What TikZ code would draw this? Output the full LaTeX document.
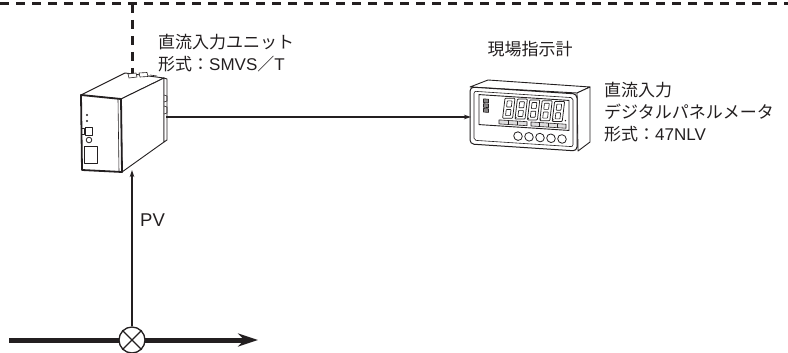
\documentclass[tikz,border=0pt]{standalone}
\usepackage{fontspec}
\setmainfont{Noto Sans CJK JP}
\newfontfamily\latn{Liberation Sans}
\usetikzlibrary{arrows.meta}
\definecolor{ink}{RGB}{35,31,32}
\begin{document}
\begin{tikzpicture}[x=1pt,y=-1pt,line join=round,
  lbl/.style={font=\fontsize{17}{22}\selectfont,inner sep=0pt,anchor=base west,text=ink},
  part/.style={draw=ink,line width=0.9pt,fill=white},
  fine/.style={draw=ink,line width=0.6pt},
  wire/.style={draw=ink,line width=1.3pt,-{Stealth[length=7pt,width=4.5pt]}},
  bus/.style={draw=ink,line width=3pt,dash pattern=on 9pt off 7pt},
  pipe/.style={draw=ink,line width=5pt,-{Stealth[length=20pt,width=13pt]}},
  valvebox/.style={circle,draw=ink,line width=1.3pt,fill=white,minimum size=26pt,inner sep=0pt},
  % outlined seven-segment "8." leaning to the right
  segdigit/.pic={
    \begin{scope}[xslant=0.12]
      \draw[fine,line width=0.75pt,rounded corners=0.8pt] (0,0) rectangle (10,20);
      \draw[fine,line width=0.65pt,rounded corners=0.5pt] (2.6,2.6) rectangle (7.4,8.7);
      \draw[fine,line width=0.65pt,rounded corners=0.5pt] (2.6,11.3) rectangle (7.4,17.4);
    \end{scope}
    \fill[ink] (10.8,19.2) circle (0.8);
  }]
\useasboundingbox (0,0) rectangle (788,353);

% ---- named points of the signal paths
\coordinate (busL) at (0,4);
\coordinate (busR) at (788,4);
\coordinate (busT) at (132,4);
\coordinate (unitTop) at (132,75);
\coordinate (unitOut) at (166,117);
\coordinate (meterIn) at (471,117);
\coordinate (unitIn) at (132,170);
\coordinate (pipeL) at (9,340);
\coordinate (pipeR) at (258,340);

% ---- communication bus (dashed)
\draw[bus] (busL) -- (busR);
\draw[bus] (busT) -- (unitTop);

% ---- DC input unit (SMVS/T)
\draw[part] (81,95) -- (121,99) -- (164,78) -- (125,73) -- cycle;
\draw[part] (121,99) -- (164,78) -- (164,142) -- (122,172) -- cycle;
\draw[part] (164,78) -- (167,79) -- (167,140) -- (164,142) -- cycle;
\draw[part,line width=1.8pt] (81,95) -- (121,99) -- (122,172) -- (82,170) -- cycle;
\draw[fine] (118,99) -- (119,172);
% top terminals
\draw[fine,fill=white] (128,74) -- (136,73) -- (137,77) -- (129,78) -- cycle;
\draw[fine,fill=white] (139,73) -- (147,72.5) -- (148,76.5) -- (140,77) -- cycle;
\draw[fine] (150,75) -- (157,76);
% DIN rail clips on the side
\draw[fine] (164,95) -- (167,96) -- (167,101) -- (164,102);
\draw[fine] (164,106) -- (167,107) -- (167,113) -- (164,114);
% front panel
\fill[ink] (87,115) circle (1.1) (87,121) circle (1.1);
\draw[fine,line width=0.8pt] (81,128) rectangle (84,134);
\draw[fine,line width=0.8pt] (85,127) rectangle (92,135);
\draw[fine,line width=0.8pt] (89,140) circle (2.8);
\draw[fine,line width=0.8pt] (84,146) rectangle (97,163);

% ---- panel meter (47NLV)
\draw[part] (470,87) -- (488,80) -- (590,87) -- (577,93) -- cycle;
\draw[part] (577,93) -- (590,87) -- (590,142) -- (578,151) -- cycle;
\begin{scope}[shift={(470,87)},yslant=-0.065]
  \draw[part,line width=1pt,rounded corners=4pt] (0,0) rectangle (107,57);
  \draw[fine,rounded corners=2pt] (4,4) rectangle (103,53);
  \draw[fine,line width=0.9pt] (9,7) rectangle (99,37);
  \foreach \k in {0,1,2}
    \draw[fine,fill=ink!55] (13.5,11+4.8*\k) rectangle (18.5,14.6+4.8*\k);
  \foreach \k in {0,...,4}
    \pic at (35+12.4*\k,9) {segdigit};
  \draw[fine,fill=ink!15] (29,31) rectangle (57,35);
  \draw[fine] (38.3,31) -- (38.3,35) (47.6,31) -- (47.6,35);
  \draw[fine,fill=ink!15] (61,31) rectangle (96,35);
  \draw[fine] (69.75,31) -- (69.75,35) (78.5,31) -- (78.5,35) (87.25,31) -- (87.25,35);
  \foreach \k in {0,...,4}
    \draw[fine,line width=0.8pt] (48+11*\k,46) circle (4.3);
\end{scope}

% ---- signal lines
\draw[wire] (unitOut) -- (meterIn);
\draw[pipe] (pipeL) -- (pipeR);
\node[valvebox] (valve) at (132,340) {};
\draw[ink,line width=1.1pt] (valve.north west) -- (valve.south east)
  (valve.north east) -- (valve.south west);
\draw[wire] (valve.north) -- (unitIn);

% ---- labels
\node[lbl] (unitName) at (158,49) {直流入力ユニット};
\node[lbl] (unitModel) at (158,71) {形式：{\latn SMVS}／{\latn T}};
\node[lbl,anchor=base] (meterRole) at (530,56) {現場指示計};
\node[lbl] (meterName) at (604,97) {直流入力};
\node[lbl] (meterKind) at (604,119) {デジタルパネルメータ};
\node[lbl] (meterModel) at (604,140) {形式：{\latn 47NLV}};
\node[lbl,font=\fontsize{18.5}{22}\selectfont] (pv) at (140,226) {\latn PV};
\end{tikzpicture}
\end{document}
